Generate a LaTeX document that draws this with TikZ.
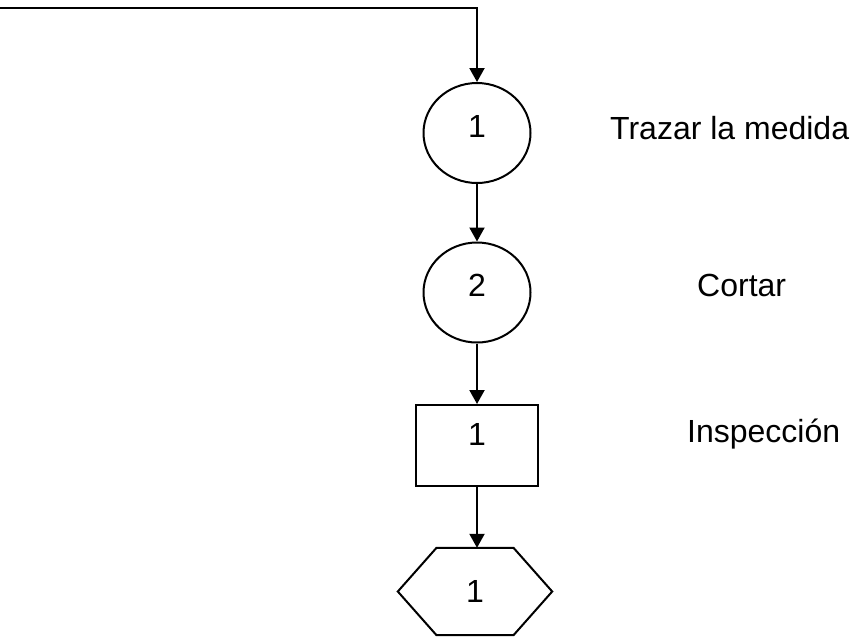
\documentclass[tikz,border=0pt]{standalone}
\usepackage{fontspec}
\setmainfont{Liberation Sans}
\usetikzlibrary{shapes.geometric,arrows.meta,calc}
\begin{document}
\begin{tikzpicture}[x=1pt,y=-1pt,
  every node/.style={font=\fontsize{32}{38}\selectfont},
  line/.style={line width=2pt},
  arr/.style={line width=2pt,-{Triangle[width=15pt,length=14pt]}},
  opcircle/.style={ellipse,draw,line width=2pt,minimum width=107pt,minimum height=100pt,inner sep=0pt,text depth=13.5pt},
  inspbox/.style={rectangle,draw,line width=2pt,minimum width=122pt,minimum height=81pt,inner sep=0pt,text depth=22.5pt},
  hexbox/.style={rectangle,minimum width=154pt,minimum height=87pt,inner sep=0pt},
  lbl/.style={anchor=west,inner sep=0pt}]
\useasboundingbox (0,0) rectangle (853,638);
\coordinate (start) at (0,7.5);
\node[opcircle] (c1) at (477,133) {1};
\node[opcircle] (c2) at (477,292.5) {2};
\node[inspbox] (r1) at (477,445.5) {1};
\node[hexbox] (h1) at (475,591.5) {1};
\draw[line] ($(h1.north)+(-38.5,0)$) -- ($(h1.north)+(38.5,0)$) -- (h1.east)
  -- ($(h1.south)+(38.5,0)$) -- ($(h1.south)+(-38.5,0)$) -- (h1.west) -- cycle;
\draw[arr] (start) -| (c1.north);
\draw[arr] (c1.south) -- (c2.north);
\draw[arr] (c2.south) -- (r1.north);
\draw[arr] (r1.south) -- (r1.south |- h1.north);
\node[lbl] (t1) at (610,128) {Trazar la medida};
\node[lbl] (t2) at (697,285) {Cortar};
\node[lbl] (t3) at (687,434) {Inspección};
\end{tikzpicture}
\end{document}
